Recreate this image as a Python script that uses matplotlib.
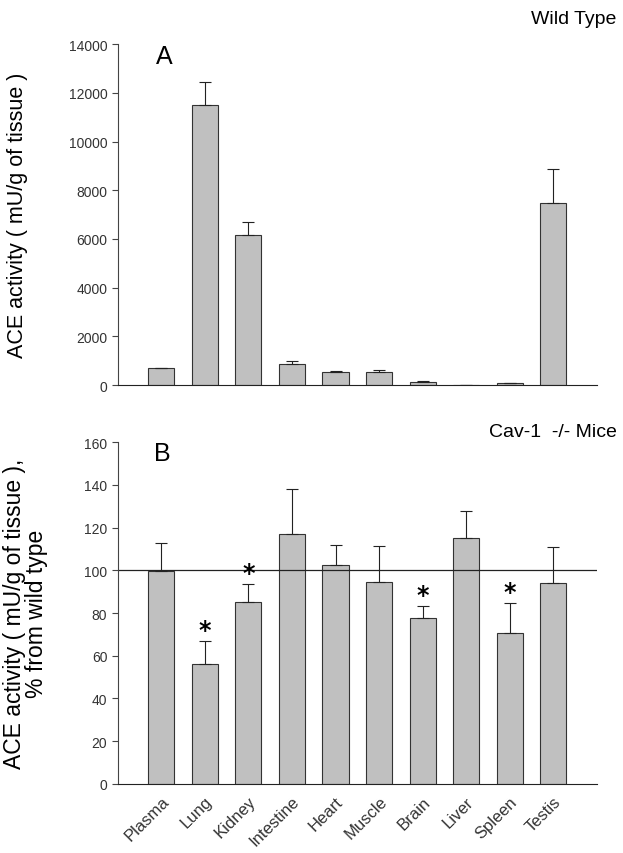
import numpy as np
import matplotlib.pyplot as plt

# data
tissues = ["Plasma", "Lung", "Kidney", "Intestine", "Heart",
           "Muscle", "Brain", "Liver", "Spleen", "Testis"]

wt_mean = [685, 11520, 6165, 850, 535, 535, 110, 0, 80, 7480]
wt_top = [710, 12440, 6685, 985, 565, 615, 150, 0, 80, 8875]

ko_mean = [99.5, 56.1, 85.0, 116.8, 102.3, 94.5, 77.7, 115.0, 70.8, 94.2]
ko_top = [112.9, 67.1, 93.8, 138.1, 111.7, 111.2, 83.4, 127.6, 84.5, 110.9]
signif = ["Lung", "Kidney", "Brain", "Spleen"]

plt.rcParams['font.family'] = ['Liberation Sans Narrow', 'Liberation Sans', 'DejaVu Sans']
sans = ['Liberation Sans', 'DejaVu Sans']

bar_col = "#c0c0c0"
x = np.arange(len(tissues))

fig = plt.figure(figsize=(6.23, 8.54), dpi=100)
ax1 = fig.add_axes([0.189, 0.548, 0.769, 0.399])
ax2 = fig.add_axes([0.189, 0.081, 0.769, 0.400])


def style(ax):
    for s in ["top", "right"]:
        ax.spines[s].set_visible(False)
    ax.spines["left"].set_color("#444444")
    ax.spines["bottom"].set_color("#222222")
    ax.tick_params(axis="y", direction="out", length=4, labelsize=10,
                   colors="#444444", labelcolor="#333333")
    ax.set_xlim(-1, 10)


#######################################
# PANEL A - wild type
#######################################
wt_err = np.array(wt_top) - np.array(wt_mean)
ax1.bar(x, wt_mean, width=0.6, color=bar_col, edgecolor="#333333", linewidth=0.8)
ax1.errorbar(x, wt_mean, yerr=[np.zeros(len(x)), wt_err], fmt="none",
             ecolor="#222222", elinewidth=0.8, capsize=4, capthick=0.8)
style(ax1)
ax1.set_ylim(0, 14000)
ax1.set_yticks(np.arange(0, 14001, 2000))
ax1.set_xticks([])
ax1.set_ylabel("ACE activity ( mU/g of tissue )", fontsize=15.5, family=sans)
ax1.yaxis.set_label_coords(-0.188, 0.5)
ax1.text(0.08, 1.0, "A", transform=ax1.transAxes, fontsize=18, va="top", family=sans)
fig.text(0.99, 0.977, "Wild Type", ha="right", va="center", fontsize=14, family=sans)

#######################################
# PANEL B - Cav-1 -/- mice
#######################################
ko_err = np.array(ko_top) - np.array(ko_mean)
ax2.bar(x, ko_mean, width=0.6, color=bar_col, edgecolor="#333333", linewidth=0.8)
ax2.errorbar(x, ko_mean, yerr=[np.zeros(len(x)), ko_err], fmt="none",
             ecolor="#222222", elinewidth=0.8, capsize=4, capthick=0.8)
ax2.axhline(100, color="#222222", linewidth=0.9)
for i, t in enumerate(tissues):
    if t in signif:
        ax2.text(x[i], ko_top[i] - 0.5, "*", ha="center", va="bottom",
                 fontsize=17, fontweight="bold", family=['DejaVu Sans'])
style(ax2)
ax2.set_ylim(0, 160)
ax2.set_yticks(np.arange(0, 161, 20))
ax2.set_xticks(x)
ax2.set_xticklabels(tissues, rotation=45, ha="right", rotation_mode="anchor",
                    fontsize=12, color="#333333")
ax2.tick_params(axis="x", length=0, pad=7)
ax2.set_ylabel("ACE activity ( mU/g of tissue ),\n% from wild type", fontsize=16.5,
               family=sans, linespacing=0.95)
ax2.yaxis.set_label_coords(-0.146, 0.5)
ax2.text(0.075, 1.005, "B", transform=ax2.transAxes, fontsize=18, va="top", family=sans)
fig.text(0.99, 0.494, "Cav-1  -/- Mice", ha="right", va="center", fontsize=14, family=sans)

fig.savefig("out.png", dpi=100)
